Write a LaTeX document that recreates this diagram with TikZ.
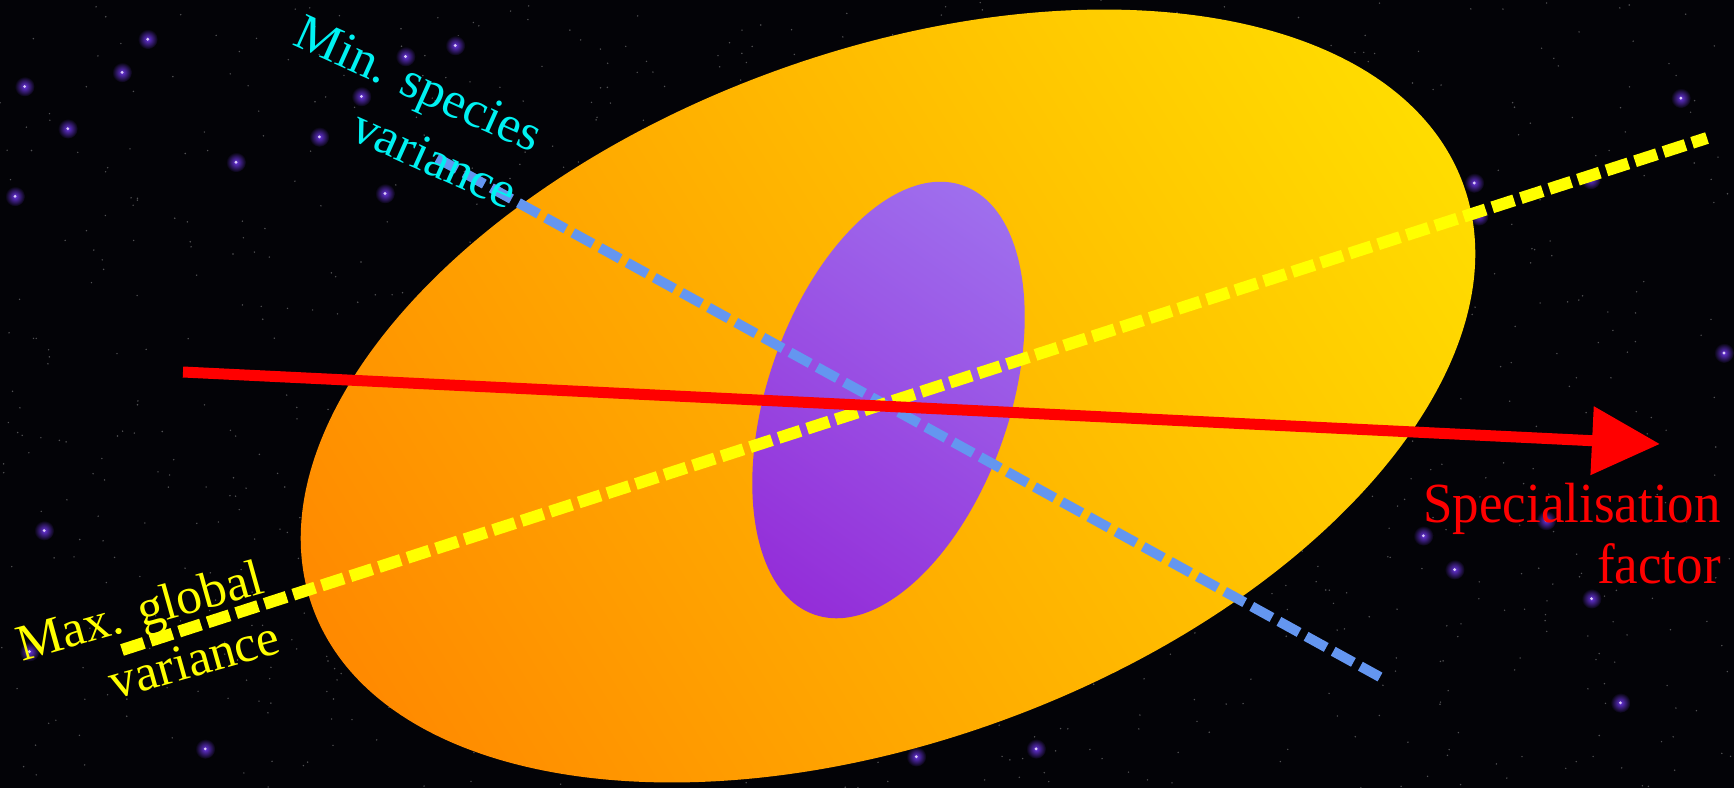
\documentclass[tikz,border=0pt]{standalone}
\usepackage{fontspec}
\setmainfont{Liberation Serif}
\usetikzlibrary{arrows.meta}
\definecolor{bgc}{HTML}{030307}
\definecolor{ora}{HTML}{FF6E00}
\definecolor{yel}{HTML}{FFF800}
\definecolor{pdark}{HTML}{8E0CCE}
\definecolor{plight}{HTML}{A490F8}
\definecolor{bluedash}{HTML}{6496F0}
\definecolor{yeldash}{HTML}{FFFF00}
\definecolor{cyantext}{HTML}{00F2F2}
\definecolor{glow}{HTML}{6A34E0}
\definecolor{redc}{HTML}{FF0000}
\begin{document}
\begin{tikzpicture}[x=1pt,y=-1pt,
  lbl/.style={inner sep=0pt, align=right},
  rotlbl/.style={lbl, font=\fontsize{51.5}{62}\selectfont},
  speclblstyle/.style={lbl, font=\fontsize{53}{57}\selectfont, yscale=1.07},
  bluedashline/.style={bluedash, line width=10pt, dash pattern=on 23pt off 8pt},
  yeldashline/.style={yeldash, line width=12pt, dash pattern=on 23pt off 7pt},
  redarrow/.style={redc, line width=11pt, -{Triangle[length=68pt,width=66pt]}}]
\useasboundingbox (0,0) rectangle (1734,788);
\fill[bgc] (0,0) rectangle (1734,788);
% star field
\pgfmathsetseed{7}
\foreach \i in {1,...,1100}{
  \pgfmathsetmacro{\sx}{rnd*1734}
  \pgfmathsetmacro{\sy}{rnd*788}
  \fill[gray!60, opacity=0.45] (\sx,\sy) circle (0.8pt);
}
\foreach \i in {1,...,50}{
  \pgfmathsetmacro{\sx}{rnd*1734}
  \pgfmathsetmacro{\sy}{rnd*788}
  \shade[inner color=glow, outer color=bgc] (\sx,\sy) circle (10pt);
  \fill[white!75!glow] (\sx,\sy) circle (1.6pt);
}
% outer ellipse
\begin{scope}
  \clip[rotate around={20.3:(888,396)}] (888,396) ellipse [x radius=613pt, y radius=344pt];
  \shade[transform canvas={rotate around={32:(888,396)}}, left color=ora, right color=yel]
    (888-1000,396-1000) rectangle (888+1000,396+1000);
\end{scope}
% inner ellipse
\begin{scope}
  \clip[rotate around={71:(888.5,400)}] (888.5,400) ellipse [x radius=227pt, y radius=121pt];
  \shade[transform canvas={rotate around={55:(888.5,400)}}, left color=pdark, right color=plight]
    (888.5-440,400-440) rectangle (888.5+440,400+440);
\end{scope}
% axes
\coordinate (blueS) at (437,158);
\coordinate (blueE) at (1380,677);
\coordinate (yelS) at (122,650);
\coordinate (yelE) at (1707,138);
\coordinate (arrS) at (183,372);
\coordinate (arrE) at (1660,444);
\draw[bluedashline] (blueS) -- (blueE);
\draw[yeldashline] (yelS) -- (yelE);
\draw[redarrow] (arrS) -- (arrE);
% labels
\node[rotlbl, text=cyantext, rotate=-24.2, anchor=north east] (minlbl) at (547,122) {Min. species\\variance};
\node[rotlbl, text=yeldash, rotate=15.7, anchor=north east] (maxlbl) at (256.5,558) {Max. global\\variance};
\node[speclblstyle, text=redc, anchor=north east] (speclbl) at (1721,483) {Specialisation\\factor};
\end{tikzpicture}
\end{document}
